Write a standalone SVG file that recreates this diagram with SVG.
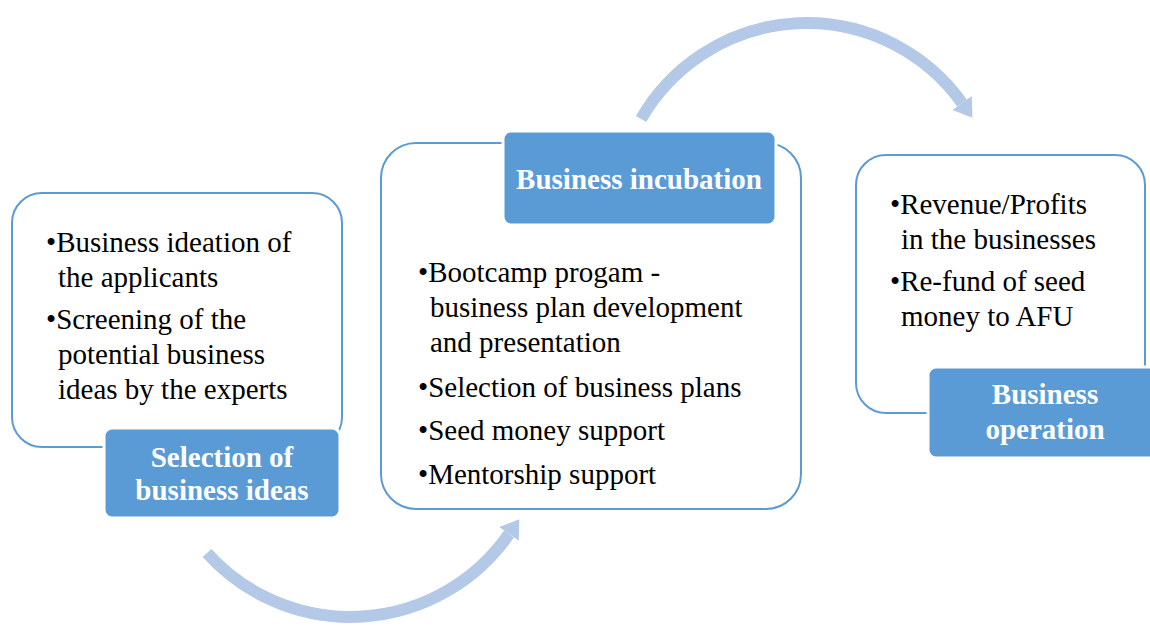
<svg xmlns="http://www.w3.org/2000/svg" width="1150" height="628" viewBox="0 0 1150 628">
  <style>
    .panel { fill: #ffffff; stroke: #5B9BD5; stroke-width: 2; }
    .tag { fill: #5B9BD5; stroke: #ffffff; stroke-width: 3; }
    .body { font-family: "Liberation Serif", "Times New Roman", serif; font-size: 29px; fill: #000000; }
    .head { font-family: "Liberation Serif", "Times New Roman", serif; font-size: 29px; font-weight: bold; fill: #ffffff; text-anchor: middle; }
    .flow { fill: none; stroke: #B4C9E7; stroke-width: 12; stroke-linecap: butt; }
  </style>
  <defs>
    <marker id="flowHead" markerUnits="userSpaceOnUse" viewBox="0 0 18 24" refX="0" refY="12" markerWidth="18" markerHeight="24" orient="auto">
      <path d="M0,0 L18,12 L0,24 Z" fill="#B4C9E7"/>
    </marker>
  </defs>

  <!-- curved flow arrows between stages -->
  <g id="connectors">
    <path class="flow" d="M207,553 A193,193 0 0 0 509,534" marker-end="url(#flowHead)"/>
    <path class="flow" d="M641,119 A191,191 0 0 1 962,103" marker-end="url(#flowHead)"/>
  </g>

  <!-- stage 1 -->
  <g id="selection">
    <rect class="panel" x="12" y="193" width="330" height="254" rx="30"/>
    <rect class="tag" x="104" y="428" width="236" height="90" rx="8"/>
    <text class="body" x="46" y="252">•Business ideation of</text>
    <text class="body" x="58" y="287">the applicants</text>
    <text class="body" x="46" y="329">•Screening of the</text>
    <text class="body" x="58" y="364">potential business</text>
    <text class="body" x="58" y="399">ideas by the experts</text>
    <text class="head" x="222" y="467">Selection of</text>
    <text class="head" x="222" y="500">business ideas</text>
  </g>

  <!-- stage 2 -->
  <g id="incubation">
    <rect class="panel" x="381" y="143" width="420" height="366" rx="35"/>
    <rect class="tag" x="503" y="131" width="273" height="94" rx="8"/>
    <text class="head" x="639" y="189">Business incubation</text>
    <text class="body" x="418" y="282">•Bootcamp progam -</text>
    <text class="body" x="430" y="317">business plan development</text>
    <text class="body" x="430" y="352">and presentation</text>
    <text class="body" x="418" y="397">•Selection of business plans</text>
    <text class="body" x="418" y="440">•Seed money support</text>
    <text class="body" x="418" y="484">•Mentorship support</text>
  </g>

  <!-- stage 3 -->
  <g id="operation">
    <rect class="panel" x="856" y="155" width="289" height="258" rx="30"/>
    <rect class="tag" x="928" y="367" width="240" height="91" rx="8"/>
    <text class="body" x="890" y="214">•Revenue/Profits</text>
    <text class="body" x="901" y="249">in the businesses</text>
    <text class="body" x="890" y="291">•Re-fund of seed</text>
    <text class="body" x="901" y="326">money to AFU</text>
    <text class="head" x="1045" y="404">Business</text>
    <text class="head" x="1045" y="439">operation</text>
  </g>
</svg>
